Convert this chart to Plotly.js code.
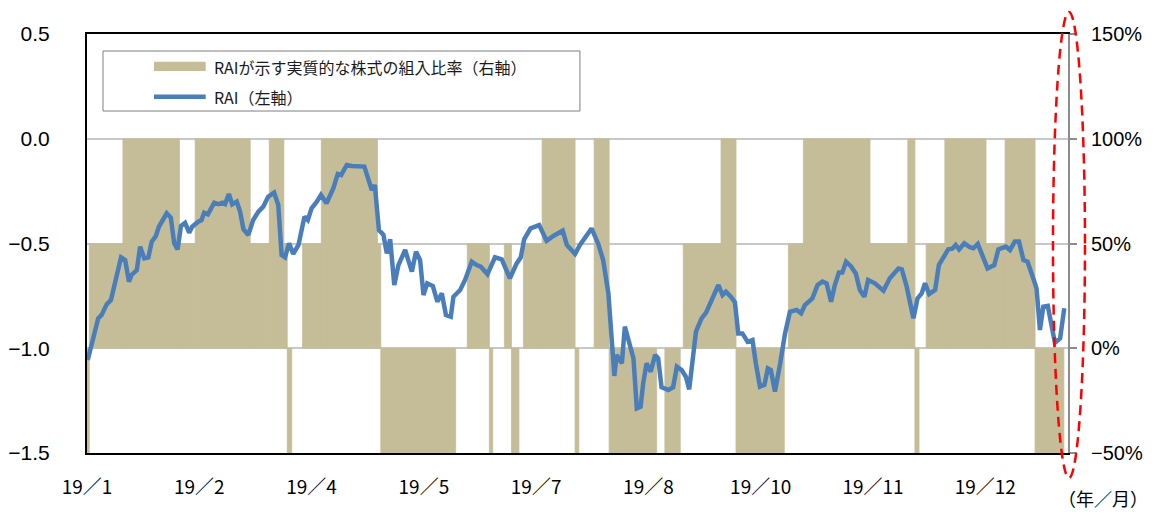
<!DOCTYPE html>
<html>
<head>
<meta charset="utf-8">
<script src="https://cdn.plot.ly/plotly-3.0.1.min.js"></script>
<style>html,body{margin:0;padding:0;background:#fff;}#chart{width:1155px;height:516px;}</style>
</head>
<body>
<div id="chart"></div>
<script>
// ---- Data (business-day index from start of 2019) ----
const xTickDays = [0, 30, 60, 90, 120, 150, 180, 210, 240];
const xTickLabels = ["19／1", "19／2", "19／4", "19／5", "19／7", "19／8", "19／10", "19／11", "19／12"];

const leftTickVals = [-1.5, -1.0, -0.5, 0.0, 0.5];
const leftTickLabels = ["−1.5", "−1.0", "−0.5", "0.0", "0.5"];
const rightTickVals = [-50, 0, 50, 100, 150];
const rightTickLabels = ["−50%", "0%", "50%", "100%", "150%"];

// RAI (left axis)
const raiDay = [
  0.2,1.4,3.0,3.9,5.3,6.4,7.9,9.1,10.2,11.2,
  11.9,13.3,14.2,15.3,16.4,17.3,18.4,19.2,21.3,22.4,
  23.3,24.2,25.1,26.2,27.3,28.1,29.7,30.6,31.3,32.3,
  34.0,35.1,36.2,36.9,37.9,38.8,40.0,40.9,41.8,43.1,
  44.4,45.8,47.1,48.4,50.0,51.1,52.0,52.9,54.0,55.1,
  56.5,58.1,59.0,60.0,61.4,62.5,64.0,65.8,67.0,67.9,
  69.4,70.7,74.1,75.2,76.1,76.9,78.0,79.2,80.1,81.0,
  82.1,83.2,85.0,86.8,87.9,89.0,89.9,90.9,92.4,93.6,
  94.8,95.9,97.2,97.9,99.7,101.0,102.8,104.1,105.2,107.0,
  109.0,110.8,113.0,114.8,115.9,116.8,118.5,120.8,122.8,124.6,
  127.1,128.2,130.4,131.7,134.8,136.6,137.9,139.3,140.2,140.9,
  141.5,142.9,143.7,145.1,146.0,146.9,147.9,148.6,149.5,150.6,
  151.8,152.6,153.5,155.3,156.6,157.6,158.9,160.0,160.9,162.7,
  164.2,165.4,166.9,168.7,169.8,170.7,172.0,173.1,174.0,175.1,
  176.5,177.8,178.7,179.8,181.0,181.9,182.7,183.8,185.2,186.5,
  187.8,189.6,190.8,191.8,193.8,195.2,196.5,197.6,198.8,199.8,
  200.9,201.8,202.8,204.1,205.4,206.5,207.7,208.7,210.5,212.8,
  214.5,216.8,217.7,219.0,220.8,221.9,223.0,223.9,225.0,226.6,
  227.6,229.0,230.1,231.2,232.1,233.0,234.4,235.9,236.8,238.0,
  239.2,240.6,242.4,243.5,245.5,246.6,247.9,249.0,250.2,251.3,
  252.8,253.7,254.6,255.5,256.7,257.7,258.6,260.0,261.1
];
const raiValue = [
  -1.056,-0.969,-0.857,-0.841,-0.789,-0.770,-0.658,-0.566,-0.579,-0.682,
  -0.650,-0.627,-0.515,-0.571,-0.566,-0.491,-0.464,-0.420,-0.356,-0.377,
  -0.499,-0.528,-0.416,-0.401,-0.448,-0.420,-0.396,-0.388,-0.353,-0.361,
  -0.305,-0.312,-0.305,-0.312,-0.264,-0.313,-0.300,-0.348,-0.432,-0.459,
  -0.388,-0.348,-0.324,-0.277,-0.257,-0.316,-0.555,-0.566,-0.499,-0.550,
  -0.507,-0.372,-0.388,-0.332,-0.300,-0.268,-0.308,-0.237,-0.168,-0.173,
  -0.125,-0.130,-0.133,-0.189,-0.245,-0.221,-0.436,-0.459,-0.547,-0.480,
  -0.698,-0.603,-0.531,-0.634,-0.539,-0.579,-0.746,-0.690,-0.703,-0.778,
  -0.738,-0.841,-0.849,-0.754,-0.722,-0.674,-0.587,-0.603,-0.611,-0.646,
  -0.566,-0.576,-0.666,-0.595,-0.566,-0.480,-0.428,-0.412,-0.487,-0.464,
  -0.439,-0.507,-0.550,-0.507,-0.428,-0.502,-0.579,-0.738,-0.945,-1.132,
  -1.032,-1.072,-0.897,-0.993,-1.048,-1.287,-1.279,-1.167,-1.072,-1.112,
  -1.032,-1.048,-1.186,-1.199,-1.186,-1.088,-1.104,-1.136,-1.196,-0.921,
  -0.857,-0.830,-0.770,-0.698,-0.746,-0.730,-0.754,-0.780,-0.929,-0.929,
  -0.969,-0.961,-1.072,-1.183,-1.175,-1.096,-1.104,-1.207,-1.072,-0.929,
  -0.826,-0.817,-0.833,-0.794,-0.762,-0.698,-0.682,-0.690,-0.778,-0.698,
  -0.639,-0.639,-0.587,-0.608,-0.643,-0.722,-0.754,-0.674,-0.690,-0.725,
  -0.666,-0.619,-0.623,-0.706,-0.857,-0.762,-0.738,-0.690,-0.741,-0.722,
  -0.603,-0.563,-0.528,-0.525,-0.507,-0.528,-0.499,-0.518,-0.523,-0.502,
  -0.555,-0.619,-0.603,-0.528,-0.515,-0.531,-0.491,-0.491,-0.579,-0.587,
  -0.666,-0.714,-0.913,-0.802,-0.798,-0.897,-0.974,-0.953,-0.809
];

// Equity allocation implied by RAI (right axis, %): level starting at each day
const allocStartDay = [0, 0.6, 9.6, 24.7, 28.9, 43.6, 48.7, 52.6, 53.5, 54.7,
  57.6, 62.6, 77.6, 78.5, 98.5, 101.6, 107.5, 108.4, 111.5, 113.4,
  115.4, 116.6, 121.6, 130.4, 131.4, 135.5, 139.5, 152.2, 154.4, 158.5,
  159.3, 169.4, 173.4, 186.3, 187.4, 191.4, 209.2, 219.3, 221.2, 222.3,
  224.2, 229.2, 240.2, 245.3, 253.3];
const allocLevel = [-50, 50, 100, 50, 100, 50, 100, 50, -50, 0,
  50, 100, 50, -50, 0, 50, -50, 0, 50, -50,
  0, 50, 100, -50, 0, 100, -50, 0, -50, 0,
  50, 100, -50, 0, 50, 100, 50, 100, -50, 0,
  50, 100, 50, 100, -50];
const allocEndDay = 261.0;
const axisEndDay = 262.1;

const seriesNames = ["RAIが示す実質的な株式の組入比率（右軸）", "RAI（左軸）"];

// ---- Build traces ----
const barX = [], barW = [], barY = [];
for (let i = 0; i < allocStartDay.length; i++) {
  if (allocLevel[i] === 0) continue; // nothing to draw for a zero allocation
  const s = allocStartDay[i];
  const e = i + 1 < allocStartDay.length ? allocStartDay[i + 1] : allocEndDay;
  barX.push((s + e) / 2);
  barW.push(e - s);
  barY.push(allocLevel[i]);
}
const tan = "#c4bd97";
const blue = "#4a7ebb";
const numFont = "Liberation Sans, Arial, sans-serif";
const jpFont = "Noto Sans CJK JP, sans-serif";

const traces = [
  {
    type: "bar", x: barX, y: barY, width: barW, yaxis: "y",
    marker: {color: tan, line: {color: tan, width: 0.8}}, name: seriesNames[0],
    showlegend: false, hoverinfo: "skip"
  },
  {
    type: "scatter", mode: "lines", x: raiDay, y: raiValue, yaxis: "y2",
    line: {color: blue, width: 4.5}, name: seriesNames[1],
    showlegend: false, hoverinfo: "skip"
  }
];

const layout = {
  width: 1155, height: 516,
  margin: {l: 87, r: 87, t: 34, b: 63, pad: 0},
  paper_bgcolor: "#ffffff", plot_bgcolor: "#ffffff",
  showlegend: false,
  xaxis: {
    range: [0, axisEndDay], tickmode: "array", tickvals: xTickDays, ticktext: xTickLabels,
    showline: true, linecolor: "#000000", linewidth: 2, mirror: true,
    ticks: "", showgrid: false, zeroline: false, ticklabelstandoff: 16,
    tickfont: {family: jpFont, size: 19, color: "#000000"}
  },
  yaxis: {
    side: "right", range: [-50, 150], tickmode: "array",
    tickvals: rightTickVals, ticktext: rightTickLabels,
    showgrid: true, gridcolor: "#c8c8c8", gridwidth: 2, zeroline: false,
    showline: true, linecolor: "#8c8c8c", linewidth: 2,
    ticks: "outside", ticklen: 7, tickwidth: 2, tickcolor: "#8c8c8c",
    ticklabelstandoff: 10,
    tickfont: {family: numFont, size: 20, color: "#000000"}
  },
  yaxis2: {
    overlaying: "y", side: "left", range: [-1.5, 0.5], tickmode: "array",
    tickvals: leftTickVals, ticktext: leftTickLabels,
    showgrid: false, zeroline: false,
    showline: true, linecolor: "#000000", linewidth: 2,
    ticks: "", ticklabelstandoff: 31,
    tickfont: {family: numFont, size: 21, color: "#000000"}
  },
  shapes: [
    // legend box
    {type: "rect", xref: "paper", yref: "paper", x0: 0.0163, x1: 0.5025, y0: 0.8162, y1: 0.9594,
     line: {color: "#7f7f7f", width: 1}, fillcolor: "#ffffff", layer: "above"},
    {type: "rect", xref: "paper", yref: "paper", x0: 0.0683, x1: 0.121, y0: 0.9117, y1: 0.9339,
     line: {width: 0}, fillcolor: tan, layer: "above"},
    {type: "line", xref: "paper", yref: "paper", x0: 0.0683, x1: 0.121, y0: 0.8504, y1: 0.8504,
     line: {color: blue, width: 4.5}, layer: "above"},
    // red dashed ellipse highlighting latest
    {type: "circle", xref: "paper", yref: "paper", x0: 0.9847, x1: 1.0173, y0: -0.0597, y1: 1.0525,
     line: {color: "#ff0000", width: 2.5, dash: "10px,6px"}, layer: "above"}
  ],
  annotations: [
    {xref: "paper", yref: "paper", x: 0.1271, y: 0.922, xanchor: "left", yanchor: "middle",
     text: seriesNames[0], showarrow: false, font: {family: jpFont, size: 16, color: "#1a1a1a"}},
    {xref: "paper", yref: "paper", x: 0.1271, y: 0.8496, xanchor: "left", yanchor: "middle",
     text: seriesNames[1], showarrow: false, font: {family: jpFont, size: 16, color: "#1a1a1a"}},
    {xref: "paper", yref: "paper", x: 1.036, y: -0.108, xanchor: "center", yanchor: "middle",
     text: "（年／月）", showarrow: false, font: {family: jpFont, size: 18, color: "#000000"}}
  ]
};

Plotly.newPlot("chart", traces, layout, {displayModeBar: false, staticPlot: true});
</script>
</body>
</html>
